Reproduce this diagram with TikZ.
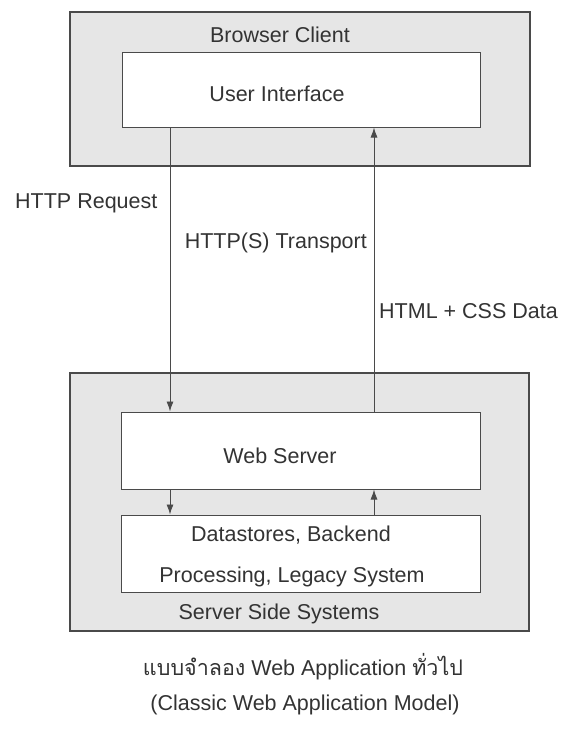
\documentclass[tikz,border=0pt]{standalone}
\usepackage{fontspec}
\setmainfont{Liberation Sans}
\newfontfamily\thaifont[Script=Thai]{Loma}
\usetikzlibrary{arrows.meta}
\definecolor{ink}{HTML}{333333}
\definecolor{lineg}{HTML}{4A4A4A}
\definecolor{shade}{HTML}{E6E6E6}
\begin{document}
\begin{tikzpicture}[x=1pt,y=-1pt,
  outerbox/.style={draw=lineg, line width=1.1pt, fill=shade, inner sep=0pt},
  innerbox/.style={draw=lineg, line width=1pt, fill=white, inner sep=0pt},
  lbl/.style={text=ink, font=\fontsize{21.5}{26}\selectfont, inner sep=0pt},
  conn/.style={draw=lineg, line width=0.9pt, -{Latex[length=10pt,width=7pt]}},
]
\path[use as bounding box, fill=white] (0,0) rectangle (565,731);

% boxes
\node[outerbox, minimum width=460pt, minimum height=154pt] (browser) at (300,89) {};
\node[innerbox, minimum width=358pt, minimum height=75pt] (ui) at (301,89.5) {};
\node[outerbox, minimum width=459pt, minimum height=258pt] (server) at (299.5,502) {};
\node[innerbox, minimum width=359pt, minimum height=77pt] (web) at (300.5,450.5) {};
\node[innerbox, minimum width=359pt, minimum height=77pt] (data) at (300.5,553.5) {};

% labels
\node[lbl] (tbrowser) at (280,35) {Browser Client};
\node[lbl] (tui) at (277,94) {User Interface};
\node[lbl] (tweb) at (280,456) {Web Server};
\node[lbl] (tdata1) at (291,535) {Datastores, Backend};
\node[lbl] (tdata2) at (292,577) {Processing, Legacy System};
\node[lbl] (tserver) at (279,614) {Server Side Systems};
\node[lbl, anchor=west] (treq) at (15,203) {HTTP Request};
\node[lbl, anchor=east] (ttrans) at (367,243) {HTTP(S) Transport};
\node[lbl, anchor=west] (thtml) at (379,311) {HTML + CSS Data};
\node[lbl] (cap1) at (303,667) {{\thaifont แบบจำลอง} Web Application {\thaifont ทั่วไป}};
\node[lbl] (cap2) at (305,705) {(Classic Web Application Model)};

% connectors
\coordinate (xl) at (170,0);
\coordinate (xr) at (374,0);
\draw[conn] (ui.south -| xl) -- (web.north -| xl);
\draw[conn] (web.north -| xr) -- (ui.south -| xr);
\draw[conn] (web.south -| xl) -- (data.north -| xl);
\draw[conn] (data.north -| xr) -- (web.south -| xr);
\end{tikzpicture}
\end{document}
